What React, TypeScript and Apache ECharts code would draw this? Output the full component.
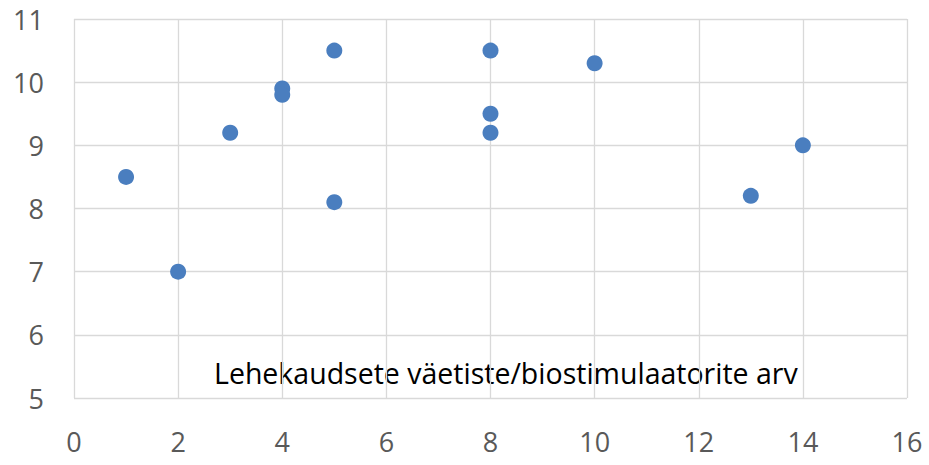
import React, { useEffect, useRef } from "react";
import * as echarts from "echarts";

const xValues = [1, 2, 3, 4, 4, 5, 5, 8, 8, 8, 10, 13, 14];
const yValues = [8.5, 7, 9.2, 9.9, 9.8, 10.5, 8.1, 10.5, 9.5, 9.2, 10.3, 8.2, 9];
const xAxisTitle = "Lehekaudsete väetiste/biostimulaatorite arv";

export default function App() {
  const ref = useRef<HTMLDivElement>(null);
  useEffect(() => {
    document.body.style.margin = "0";
    const chart = echarts.init(ref.current!, null, { renderer: "svg" });
    const font = "'Open Sans', 'Noto Sans', sans-serif";
    chart.setOption({
      animation: false,
      grid: { left: 74, right: 22, top: 19, bottom: 67, outerBoundsMode: "none" },
      xAxis: {
        type: "value",
        min: 0,
        max: 16,
        interval: 2,
        axisLine: { show: false },
        axisTick: { show: false },
        axisLabel: { color: "#595959", fontSize: 27, fontFamily: font, margin: 30 },
        splitLine: { show: true, lineStyle: { color: "#d9d9d9", width: 1.3 } },
      },
      yAxis: {
        type: "value",
        min: 5,
        max: 11,
        interval: 1,
        axisLine: { show: false },
        axisTick: { show: false },
        axisLabel: { color: "#595959", fontSize: 27, fontFamily: font, margin: 30 },
        splitLine: { show: true, lineStyle: { color: "#d9d9d9", width: 1.3 } },
      },
      graphic: [
        {
          type: "text",
          left: 214,
          top: 358,
          style: {
            text: xAxisTitle,
            fill: "#000",
            fontSize: 28.5,
            fontFamily: font,
          },
        },
      ],
      series: [
        {
          type: "scatter",
          data: xValues.map((x, i) => [x, yValues[i]]),
          symbolSize: 16,
          itemStyle: { color: "#4a7ebf", opacity: 1 },
        },
      ],
    });
    return () => chart.dispose();
  }, []);
  return <div ref={ref} style={{ width: 929, height: 465 }} />;
}
